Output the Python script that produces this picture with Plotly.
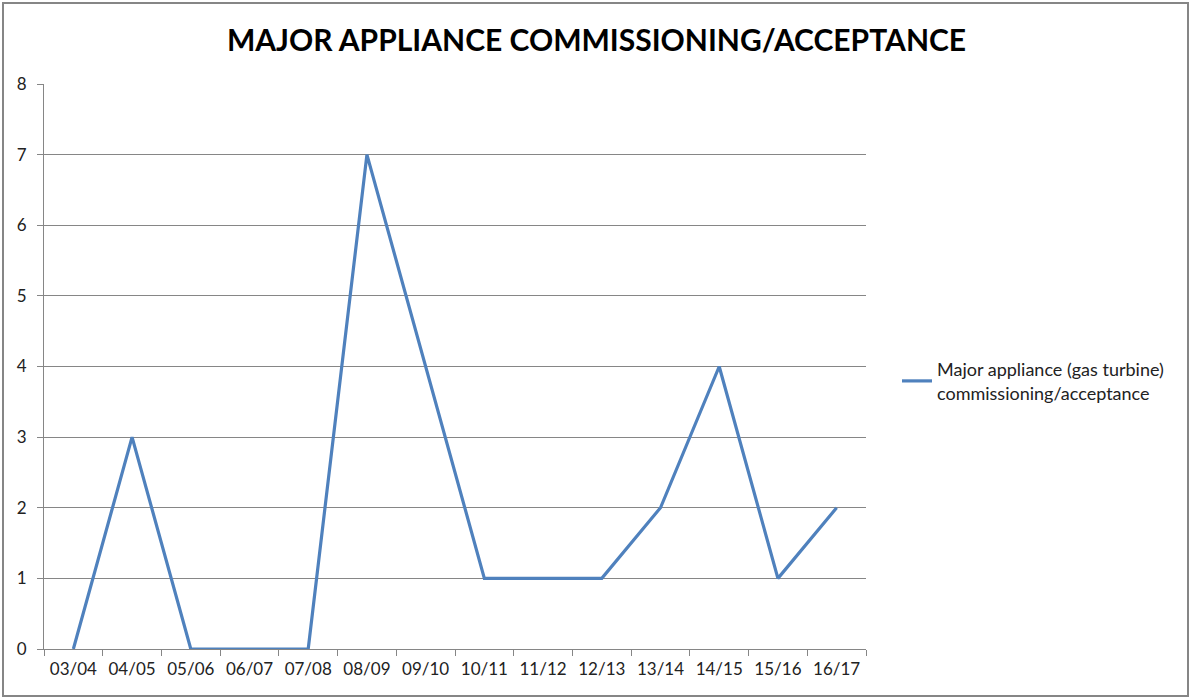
import plotly.graph_objects as go

categories = ["03/04", "04/05", "05/06", "06/07", "07/08", "08/09", "09/10",
              "10/11", "11/12", "12/13", "13/14", "14/15", "15/16", "16/17"]
values = [0, 3, 0, 0, 0, 7, 4, 1, 1, 1, 2, 4, 1, 2]
series_name = "Major appliance (gas turbine)<br>commissioning/acceptance"
title_text = "MAJOR APPLIANCE COMMISSIONING/ACCEPTANCE"

W, H = 1193, 699
L, R, T, B = 44, 866, 84, 649

fig = go.Figure()
fig.add_trace(go.Scatter(
    x=categories, y=values, mode="lines", name=series_name,
    line=dict(color="#4F81BD", width=3.2), showlegend=True,
))

def px_to_paper_x(px):
    return (px - L) / (R - L)

def px_to_paper_y(py):
    return (B - py) / (B - T)

fig.update_layout(
    width=W, height=H,
    margin=dict(l=L, r=W - R, t=T, b=H - B, pad=0),
    paper_bgcolor="white", plot_bgcolor="white",
    font=dict(family="Lato, Carlito, Calibri, sans-serif", size=17, color="#222222"),
    title=dict(text="<b>" + title_text + "</b>", x=0.5, xanchor="center",
               y=1 - 40 / H, yanchor="middle",
               font=dict(size=30, color="black")),
    showlegend=True,
    legend=dict(x=px_to_paper_x(897), xanchor="left", y=px_to_paper_y(381), yanchor="middle",
                font=dict(size=18, color="#222222"), bgcolor="rgba(0,0,0,0)"),
    xaxis=dict(type="category", tickson="boundaries", showgrid=False,
               ticks="outside", ticklen=6, tickcolor="#868686",
               showline=True, linecolor="#868686", linewidth=1,
               ticklabelstandoff=5,
               range=[-0.5, len(categories) - 0.5], fixedrange=True),
    yaxis=dict(range=[0, 8], dtick=1, showgrid=True, gridcolor="#868686", gridwidth=1,
               ticks="outside", ticklen=6, tickcolor="#868686",
               showline=True, linecolor="#868686", linewidth=1,
               ticklabelstandoff=7,
               zeroline=False, fixedrange=True),
    shapes=[dict(type="rect", xref="paper", yref="paper",
                 x0=px_to_paper_x(3), x1=px_to_paper_x(1188),
                 y0=px_to_paper_y(696), y1=px_to_paper_y(3),
                 line=dict(color="#868686", width=2), fillcolor="rgba(0,0,0,0)",
                 layer="below")],
)

fig.write_html("out.html", config={"displayModeBar": False},
               post_script="document.body.style.margin='0';")
